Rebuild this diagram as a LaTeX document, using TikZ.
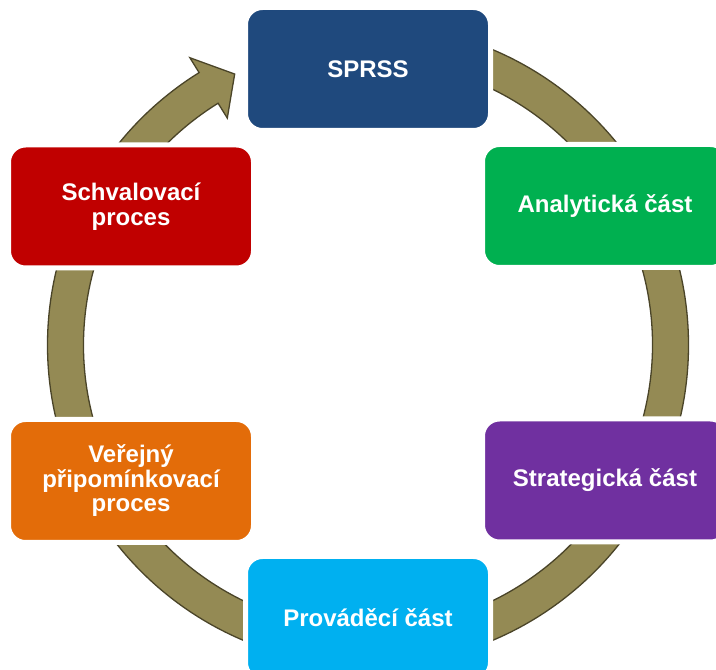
\documentclass[tikz,border=0pt]{standalone}
\usepackage{fontspec}
\setmainfont{Liberation Sans}
\definecolor{cBlue}{HTML}{1F497D}
\definecolor{cGreen}{HTML}{00B050}
\definecolor{cPurple}{HTML}{7030A0}
\definecolor{cCyan}{HTML}{00B0F0}
\definecolor{cOrange}{HTML}{E36C09}
\definecolor{cRed}{HTML}{C00000}
\definecolor{ringFill}{HTML}{948A54}
\definecolor{ringLine}{HTML}{4A4428}
\tikzset{
  stagebox/.style={rectangle, rounded corners=17pt, draw=white, line width=5pt,
    minimum width=245pt, minimum height=123pt, inner sep=0pt, text=white,
    align=center, font=\fontsize{24}{24.5}\selectfont\bfseries},
  ring/.style={fill=ringFill, draw=ringLine, line width=1.3pt, line join=miter}
}
\begin{document}
\begin{tikzpicture}[x=1pt,y=1pt]
\clip (0,0) rectangle (716,670);
\fill[white] (0,0) rectangle (716,670);
\begin{scope}[shift={(368,325)}]
\draw[ring] (90:320.5) arc[start angle=90, end angle=-238.2, radius=320.5]
  -- (-238.2:338) -- (-243.8:302) -- (-238.2:267) -- (-238.2:284.5)
  arc[start angle=-238.2, end angle=90, radius=284.5] -- cycle;
\end{scope}
\node[stagebox, fill=cBlue]   (sprss) at (368,601)   {SPRSS};
\node[stagebox, fill=cGreen]  (anal)  at (605,464)   {Analytická část};
\node[stagebox, fill=cPurple] (strat) at (605,189.5) {Strategická část};
\node[stagebox, fill=cCyan]   (prov)  at (368,52)    {Prováděcí část};
\node[stagebox, fill=cOrange] (verej) at (131,189)   {Veřejný\\připomínkovací\\proces};
\node[stagebox, fill=cRed]    (schv)  at (131,463.5) {Schvalovací\\proces};
\end{tikzpicture}
\end{document}
